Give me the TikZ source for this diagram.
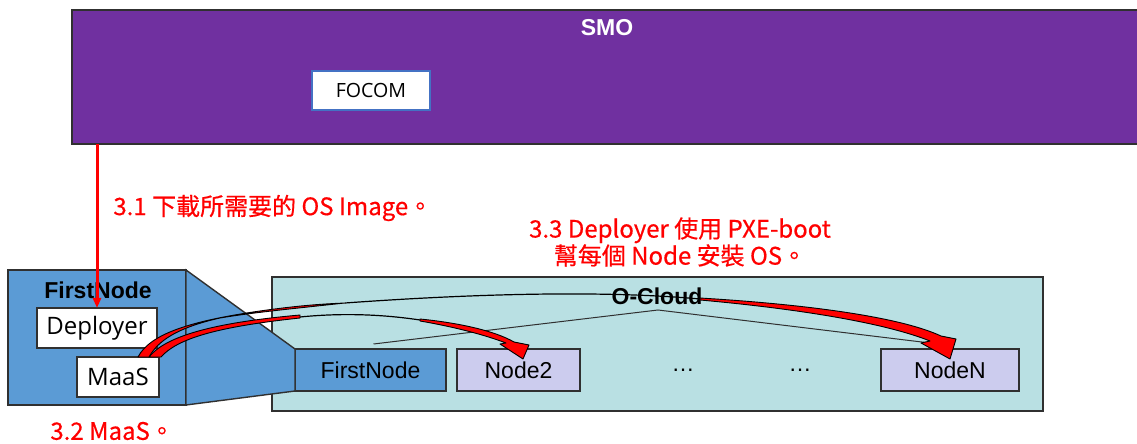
\documentclass[tikz,border=0pt]{standalone}
\usepackage{fontspec}
\setmainfont{Liberation Sans}
\newfontfamily\cjk[FakeBold=0.5]{Noto Sans CJK TC}
\newfontfamily\osans{Open Sans}
\usetikzlibrary{arrows.meta}
\definecolor{smopurple}{HTML}{7030A0}
\definecolor{fnblue}{HTML}{5B9BD5}
\definecolor{cloudfill}{HTML}{B9E0E3}
\definecolor{nodelav}{HTML}{CCCCEE}
\definecolor{edgegray}{HTML}{303030}
\definecolor{focomedge}{HTML}{4472C4}
\begin{document}
\begin{tikzpicture}[x=0.5pt,y=-0.5pt,
  box/.style 2 args={draw=edgegray,line width=0.7pt,inner sep=0pt,outer sep=0pt,
    minimum width=#1*0.5pt,minimum height=#2*0.5pt},
  arialtxt/.style={font=\fontsize{11.5}{13}\selectfont},
  boldtxt/.style={font=\fontsize{11.5}{13}\selectfont\bfseries},
  osanstxt/.style={font=\osans\fontsize{12}{14}\selectfont},
  redtxt/.style={text=red,font=\cjk\fontsize{12}{13.5}\selectfont,inner sep=0pt},
  ribbon/.style={fill=red,draw=black,line width=0.45pt,line join=round},
  midline/.style={draw=black,line width=0.6pt},
  treeline/.style={draw=edgegray,line width=0.5pt}]
\useasboundingbox (0,0) rectangle (1137,444);
% SMO
\node[box={1071}{134},fill=smopurple] (smo) at (607.5,77) {};
\node[boldtxt,text=white] (smotxt) at (607,28) {SMO};
\node[box={118}{39},draw=focomedge,fill=white,font=\osans\fontsize{9.8}{12}\selectfont] (focom) at (371,90.5) {FOCOM};
% O-Cloud
\node[box={771}{134},fill=cloudfill] (cloud) at (657.5,344) {};
\node[boldtxt] (cloudtxt) at (657,296) {O-Cloud};
% FirstNode big
\node[box={178}{135},fill=fnblue] (fnbig) at (97,337.5) {};
\node[box={151}{42},fill=fnblue,arialtxt] (fnsmall) at (370.5,370) {FirstNode};
\draw[draw=edgegray,line width=0.7pt,fill=fnblue] (fnbig.north east) -- (fnsmall.north west) -- (fnsmall.south west) -- (fnbig.south east) -- cycle;
\node[boldtxt] (fnbigtxt) at (98,290) {FirstNode};
\node[box={120}{40},fill=white,osanstxt] (deployer) at (97,328) {Deployer};
\node[box={82}{40},fill=white,osanstxt] (maas) at (118,377) {MaaS};
\node[box={123}{42},fill=nodelav,arialtxt] (node2) at (518.5,370) {Node2};
\node[box={138}{42},fill=nodelav,arialtxt] (nodeN) at (950,370) {NodeN};
\node[arialtxt] (dots1) at (683,370) {…};
\node[arialtxt] (dots2) at (800,370) {…};
% tree lines
\coordinate (peak) at (658,310);
\draw[treeline] ([shift={(3,-5)}]fnsmall.north) -- (peak) -- (930,343);
% vertical red arrow
\draw[red,line width=1.5pt,-{Triangle[length=5pt,width=4pt]}] (smo.south -| deployer.north) -- (deployer.north);
% curved arrow to Node2
\draw[ribbon] (149,357) .. controls (165,337) and (210,323) .. (300,315)
   -- (300,318) .. controls (215,327) and (177,339) .. (161,357) -- cycle;
\draw[midline] (300,317) .. controls (340,313) and (380,314) .. (420,320);
\draw[ribbon] (420,319) .. controls (460,323) and (495,331) .. (514,342)
   -- (529,345) -- (523,359) -- (500,344) -- (506,343)
   .. controls (485,335) and (455,327) .. (420,321) -- cycle;
% curved arrow to NodeN
\draw[ribbon] (138,357) .. controls (150,334) and (190,321) .. (260,311)
   .. controls (295,306) and (320,304) .. (345,303)
   .. controls (280,310) and (250,313) .. (220,318)
   .. controls (185,326) and (160,337) .. (149,357) -- cycle;
\draw[midline] (345,303) .. controls (470,294) and (600,290) .. (700,299);
\draw[ribbon] (700,298) .. controls (800,304) and (898,316) .. (941,336)
   -- (956,339) -- (950,359) -- (921,343) -- (930,341)
   .. controls (885,323) and (800,309) .. (700,300) -- cycle;
% red labels
\node[redtxt,anchor=west] (lbl31) at (113,208) {3.1 下載所需要的 OS Image。};
\node[redtxt,align=center] (lbl33) at (680,242) {3.3 Deployer 使用 PXE-boot\\幫每個 Node 安裝 OS。};
\node[redtxt,anchor=west] (lbl32) at (50,431) {3.2 MaaS。};
\end{tikzpicture}
\end{document}
